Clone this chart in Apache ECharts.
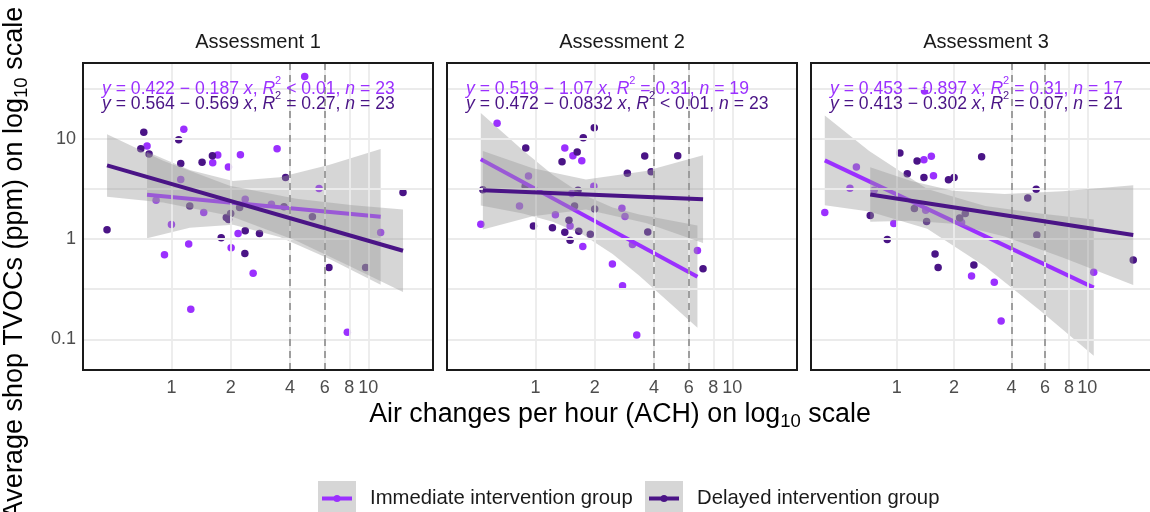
<!DOCTYPE html>
<html>
<head>
<meta charset="UTF-8">
<script src="https://cdn.jsdelivr.net/npm/echarts@6/dist/echarts.min.js"></script>
<style>
  html, body { margin: 0; padding: 0; background: #ffffff; }
  #chart { width: 1150px; height: 512px; }
</style>
</head>
<body>
<div id="chart"></div>
<script>
// ---- data (ACH, TVOC ppm) ----
var xTicks = [1, 2, 4, 6, 8, 10];
var yTicks = [0.1, 1, 10];
var yGridVals = [0.1, 0.316, 1, 3.16, 10, 31.6];
var refLines = [4, 6];
var panelTitles = ['Assessment 1', 'Assessment 2', 'Assessment 3'];
var groupNames = ['Immediate intervention group', 'Delayed intervention group'];

// Assessment 1
var a1Imm = [[4.75,41.6],[1.156,12.4],[0.752,8.46],[3.44,7.96],[1.719,6.88],[1.621,5.78],[2.24,6.93],[1.947,5.23],
  [1.115,3.92],[5.62,3.19],[0.836,2.44],[1.459,1.84],[2.37,2.50],[3.22,2.23],[1.00,1.40],[2.18,1.14],[1.224,0.892],
  [2.01,0.820],[0.922,0.699],[2.60,0.456],[11.55,1.165],[1.254,0.200],[7.82,0.118]];
var a1Del = [[0.724,11.6],[1.089,9.77],[0.699,7.96],[0.770,7.04],[1.431,5.82],[1.615,6.78],[1.115,5.65],[3.80,4.10],
  [1.239,2.14],[2.22,2.06],[2.00,1.80],[1.90,1.64],[1.95,1.57],[3.73,2.10],[5.20,1.67],[0.471,1.24],[2.37,1.21],
  [2.80,1.14],[1.79,1.03],[2.36,0.721],[6.31,0.523],[9.69,0.523],[15.0,2.91]];
var a1ImmFit = [[0.752,2.76],[11.55,1.67]];
var a1DelFit = [[0.471,5.43],[15.0,0.766]];
// [x, lower, upper]
var a1ImmBand = [[0.752,1.02,7.43],[1.239,1.30,4.88],[2.056,1.39,3.80],[3.548,1.05,4.13],[6.36,0.633,5.52],[11.55,0.352,7.89]];
var a1DelBand = [[0.471,2.65,11.1],[0.907,2.31,6.04],[1.977,1.71,3.41],[4.31,0.962,2.52],[8.36,0.519,2.18],[15.0,0.298,1.97]];

// Assessment 2
var a2Imm = [[0.639,14.3],[1.41,8.08],[1.55,6.78],[1.72,6.04],[0.922,4.26],[1.98,3.36],[1.53,2.84],[0.830,2.14],
  [1.263,1.745],[2.75,2.03],[2.85,1.68],[1.50,1.35],[0.528,1.41],[1.74,0.846],[3.11,0.885],[2.46,0.565],[6.65,0.771],
  [2.77,0.344],[3.27,0.111]];
var a2Del = [[1.99,12.9],[1.75,10.2],[0.893,8.08],[1.63,7.37],[1.365,5.91],[3.59,6.73],[5.28,6.78],[2.93,4.52],
  [3.87,4.70],[0.541,3.11],[0.887,3.36],[1.645,3.07],[1.58,2.14],[2.00,2.00],[1.48,1.545],[0.977,1.35],[1.22,1.30],
  [1.41,1.17],[1.66,1.20],[1.90,1.12],[1.50,0.977],[3.72,1.18],[7.10,0.508]];
var a2ImmFit = [[0.528,6.23],[6.65,0.423]];
var a2DelFit = [[0.541,3.07],[7.10,2.50]];
var a2ImmBand = [[0.528,2.16,18.0],[0.863,1.80,7.66],[1.224,1.49,4.37],[1.738,1.11,2.78],[2.466,0.709,2.07],[3.37,0.432,1.76],[6.65,0.131,1.37]];
var a2DelBand = [[0.541,1.25,7.54],[0.969,1.69,5.07],[1.806,1.97,3.92],[3.64,1.45,4.77],[7.10,0.913,6.83]];

// Assessment 3
var a3Imm = [[1.40,29.8],[1.39,6.18],[1.52,6.68],[0.615,5.23],[1.56,4.29],[0.569,3.21],[0.762,3.07],[0.420,1.84],
  [1.42,1.94],[0.966,1.43],[2.19,1.46],[2.47,0.429],[3.25,0.371],[3.53,0.153],[10.8,0.467]];
var a3Del = [[1.04,7.20],[2.79,6.62],[1.28,6.00],[1.137,4.49],[1.39,4.10],[1.87,3.91],[2.00,4.10],[0.727,1.72],
  [1.239,2.02],[1.436,1.50],[2.14,1.62],[2.29,1.80],[4.87,2.57],[5.39,3.14],[5.43,1.10],[0.893,0.99],[1.59,0.710],
  [1.65,0.523],[2.54,0.552],[17.4,0.618]];
var a3ImmFit = [[0.420,6.09],[10.8,0.329]];
var a3DelFit = [[0.727,2.78],[17.4,1.10]];
var a3ImmBand = [[0.420,2.18,17.06],[0.718,1.88,7.54],[1.447,1.27,3.16],[2.914,0.535,2.14],[5.65,0.194,1.80],[10.8,0.0689,1.57]];
var a3DelBand = [[0.727,1.49,5.19],[1.191,1.52,3.80],[1.975,1.42,3.04],[3.68,1.06,2.82],[7.41,0.657,3.00],[17.4,0.349,3.44]];

// regression labels
var immEq = [
  '{i|y} = 0.422 \u2212 0.187 {i|x}, {i|R}{s|2} < 0.01, {i|n} = 23',
  '{i|y} = 0.519 \u2212 1.07 {i|x}, {i|R}{s|2} = 0.31, {i|n} = 19',
  '{i|y} = 0.453 \u2212 0.897 {i|x}, {i|R}{s|2} = 0.31, {i|n} = 17'
];
var delEq = [
  '{i|y} = 0.564 \u2212 0.569 {i|x}, {i|R}{s|2} = 0.27, {i|n} = 23',
  '{i|y} = 0.472 \u2212 0.0832 {i|x}, {i|R}{s|2} < 0.01, {i|n} = 23',
  '{i|y} = 0.413 \u2212 0.302 {i|x}, {i|R}{s|2} = 0.07, {i|n} = 21'
];

var panels = [
  { imm: a1Imm, del: a1Del, immFit: a1ImmFit, delFit: a1DelFit, immBand: a1ImmBand, delBand: a1DelBand },
  { imm: a2Imm, del: a2Del, immFit: a2ImmFit, delFit: a2DelFit, immBand: a2ImmBand, delBand: a2DelBand },
  { imm: a3Imm, del: a3Del, immFit: a3ImmFit, delFit: a3DelFit, immBand: a3ImmBand, delBand: a3DelBand }
];

// ---- layout / style ----
var FONT = 'Liberation Sans';
var IMM = '#9b30ff';
var DEL = '#4a1486';
var X_MIN = 0.3556, X_MAX = 21.3;
var Y_MIN = 0.0497, Y_MAX = 56.8;
var gridLeft = [83, 447, 811];
var gridTop = 63, gridW = 350, gridH = 307;
var EQ_SIZE = 17.6;

var chart = echarts.init(document.getElementById('chart'));

function bandSeries(band, i, z) {
  return {
    type: 'custom', xAxisIndex: i, yAxisIndex: i, z: z, silent: true,
    data: band,
    encode: { x: 0, y: [1, 2] },
    renderItem: function (params, api) {
      if (params.dataIndex !== 0) return null;
      var up = band.map(function (d) { return api.coord([d[0], d[2]]); });
      var lo = band.map(function (d) { return api.coord([d[0], d[1]]); }).reverse();
      return {
        type: 'polygon',
        shape: { points: up.concat(lo) },
        style: { fill: '#999999', opacity: 0.4 }
      };
    }
  };
}

function eqRich(color) {
  return {
    i: { fontStyle: 'italic', fontSize: EQ_SIZE, fontFamily: FONT, fill: color },
    s: { fontSize: 11, fontFamily: FONT, fill: color, padding: [0, 0, 16, 0] }
  };
}

var grids = [], xAxes = [], yAxes = [], series = [], graphics = [];

panels.forEach(function (p, i) {
  grids.push({ left: gridLeft[i], top: gridTop, width: gridW, height: gridH, show: false });
  xAxes.push({
    type: 'log', logBase: 10, gridIndex: i, min: X_MIN, max: X_MAX,
    axisLine: { show: false }, axisTick: { show: false }, splitLine: { show: false },
    axisLabel: {
      customValues: xTicks, color: '#4d4d4d', fontSize: 18, fontFamily: FONT, margin: 9,
      formatter: function (v) { return String(v); }
    }
  });
  yAxes.push({
    type: 'log', logBase: 10, gridIndex: i, min: Y_MIN, max: Y_MAX,
    axisLine: { show: false }, axisTick: { show: false }, splitLine: { show: false },
    axisLabel: i === 0 ? {
      customValues: yTicks, color: '#4d4d4d', fontSize: 18, fontFamily: FONT, margin: 7,
      formatter: function (v) { return String(v); }
    } : { show: false }
  });

  // panel grid lines
  series.push({
    type: 'line', xAxisIndex: i, yAxisIndex: i, data: [], z: 1, silent: true,
    markLine: {
      silent: true, symbol: ['none', 'none'], label: { show: false }, animation: false,
      lineStyle: { color: '#ebebeb', width: 1.8, type: 'solid' },
      data: xTicks.map(function (v) { return { xAxis: v }; })
        .concat(yGridVals.map(function (v) { return { yAxis: v }; }))
    }
  });
  // dashed reference lines
  series.push({
    type: 'line', xAxisIndex: i, yAxisIndex: i, data: [], z: 2.5, silent: true,
    markLine: {
      silent: true, symbol: ['none', 'none'], label: { show: false }, animation: false,
      lineStyle: { color: '#9e9e9e', width: 2, type: [7, 5] },
      data: refLines.map(function (v) { return { xAxis: v }; })
    }
  });

  series.push({
    name: groupNames[0], type: 'scatter', xAxisIndex: i, yAxisIndex: i, z: 2,
    data: p.imm, symbolSize: 7.5, itemStyle: { color: IMM, opacity: 1 }
  });
  series.push({
    name: groupNames[1], type: 'scatter', xAxisIndex: i, yAxisIndex: i, z: 2,
    data: p.del, symbolSize: 7.5, itemStyle: { color: DEL, opacity: 1 }
  });

  series.push(bandSeries(p.immBand, i, 3));
  series.push({
    type: 'line', xAxisIndex: i, yAxisIndex: i, z: 4, data: p.immFit,
    showSymbol: false, silent: true, lineStyle: { color: IMM, width: 4 }
  });
  series.push(bandSeries(p.delBand, i, 5));
  series.push({
    type: 'line', xAxisIndex: i, yAxisIndex: i, z: 6, data: p.delFit,
    showSymbol: false, silent: true, lineStyle: { color: DEL, width: 4 }
  });

  // border, strip title, equations
  graphics.push({
    type: 'rect', z: 100, silent: true,
    shape: { x: gridLeft[i], y: gridTop, width: gridW, height: gridH },
    style: { fill: 'none', stroke: '#1a1a1a', lineWidth: 2 }
  });
  graphics.push({
    type: 'text', x: gridLeft[i] + gridW / 2, y: 42, z: 100, silent: true,
    style: { text: panelTitles[i], fontSize: 20, fontFamily: FONT, fill: '#1a1a1a',
      align: 'center', verticalAlign: 'middle' }
  });
  graphics.push({
    type: 'text', x: gridLeft[i] + 19, y: 89, z: 100, silent: true,
    style: { text: immEq[i], fontSize: EQ_SIZE, fontFamily: FONT, fill: IMM, rich: eqRich(IMM),
      align: 'left', verticalAlign: 'middle' }
  });
  graphics.push({
    type: 'text', x: gridLeft[i] + 19, y: 104, z: 100, silent: true,
    style: { text: delEq[i], fontSize: EQ_SIZE, fontFamily: FONT, fill: DEL, rich: eqRich(DEL),
      align: 'left', verticalAlign: 'middle' }
  });
});

var titleRich = {
  sub: { fontSize: 18.5, fontFamily: FONT, fill: '#000', padding: [14, 0, 0, 0] }
};
graphics.push({
  type: 'text', x: 620, y: 415, silent: true,
  style: { text: 'Air changes per hour (ACH) on log{sub|10} scale', fontSize: 26.8, fontFamily: FONT,
    fill: '#000', rich: titleRich, align: 'center', verticalAlign: 'middle' }
});
graphics.push({
  type: 'text', x: 15, y: 263, rotation: Math.PI / 2, silent: true,
  style: { text: 'Average shop TVOCs (ppm) on log{sub|10} scale', fontSize: 27, fontFamily: FONT,
    fill: '#000', rich: titleRich, align: 'center', verticalAlign: 'middle' }
});

// legend
var legendKeys = [{ x: 318, color: IMM, tx: 370 }, { x: 645, color: DEL, tx: 697 }];
legendKeys.forEach(function (k, j) {
  graphics.push({ type: 'rect', silent: true, shape: { x: k.x, y: 481, width: 38, height: 34 },
    style: { fill: '#d6d6d6' } });
  graphics.push({ type: 'line', silent: true, shape: { x1: k.x + 4, y1: 498.5, x2: k.x + 34, y2: 498.5 },
    style: { stroke: k.color, lineWidth: 4 } });
  graphics.push({ type: 'circle', silent: true, shape: { cx: k.x + 19, cy: 498.5, r: 3.5 },
    style: { fill: k.color } });
  graphics.push({ type: 'text', x: k.tx, y: 498, silent: true,
    style: { text: groupNames[j], fontSize: 20.3, fontFamily: FONT, fill: '#1a1a1a',
      align: 'left', verticalAlign: 'middle' } });
});

chart.setOption({
  backgroundColor: '#ffffff',
  animation: false,
  textStyle: { fontFamily: FONT },
  grid: grids,
  xAxis: xAxes,
  yAxis: yAxes,
  series: series,
  graphic: { elements: graphics }
});
</script>
</body>
</html>
